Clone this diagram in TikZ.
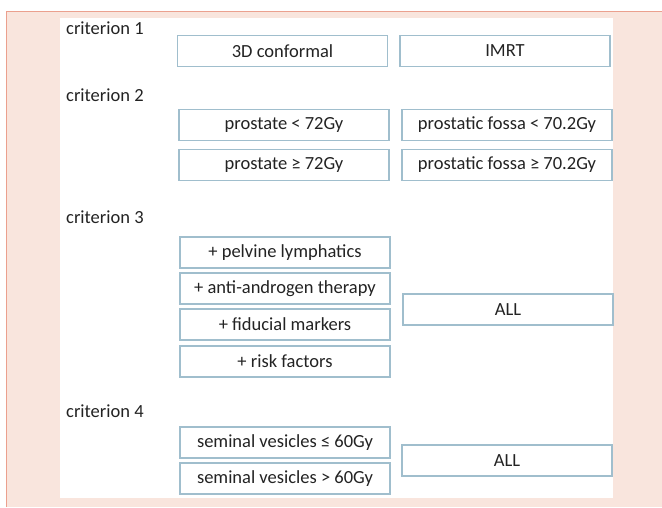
\documentclass[tikz,border=0pt]{standalone}
\usepackage{fontspec}
\setmainfont{Carlito}
\definecolor{panelpink}{RGB}{249,229,221}
\definecolor{panelline}{RGB}{235,160,142}
\definecolor{boxline}{RGB}{160,190,205}
\definecolor{txtgray}{RGB}{35,35,35}
\tikzset{
  critbox/.style={draw=boxline, line width=1.2pt, fill=white, minimum width=210pt, minimum height=31pt, inner sep=0pt, text=txtgray, font=\fontsize{18.5}{21}\selectfont},
  critlabel/.style={anchor=west, inner sep=0pt, text=txtgray, font=\fontsize{18.5}{21}\selectfont}
}
\begin{document}
\begin{tikzpicture}[x=1pt,y=1pt,yscale=-1,xscale=1]
\useasboundingbox (0,0) rectangle (662,507);

%Shape: Rectangle [panel]
\fill [panelpink] (6,11) rectangle (662,507);
\draw [panelline, line width=1pt] (6,507) -- (6,11) -- (662,11);
%Shape: Rectangle [sheet]
\fill [white] (60,18) rectangle (613,498);

% criterion 1
\node [critlabel] (crit1) at (66,28) {criterion 1};
\node [critbox] (conf3d) at (282.5,51) {3D conformal};
\node [critbox] (imrt) at (505,51) {IMRT};

% criterion 2
\node [critlabel] (crit2) at (66,95) {criterion 2};
\node [critbox] (prolow) at (284,125) {prostate < 72Gy};
\node [critbox] (fossalow) at (507,125) {prostatic fossa < 70.2Gy};
\node [critbox] (prohigh) at (284,165) {prostate ≥ 72Gy};
\node [critbox] (fossahigh) at (507,165) {prostatic fossa ≥ 70.2Gy};

% criterion 3
\node [critlabel] (crit3) at (66,217) {criterion 3};
\node [critbox] (pelvic) at (285,252.5) {+ pelvine lymphatics};
\node [critbox] (antiandro) at (285,288.5) {+ anti-androgen therapy};
\node [critbox] (fiducial) at (285,324.5) {+ fiducial markers};
\node [critbox] (risk) at (285,361.5) {+ risk factors};
\node [critbox] (allthree) at (508,309.5) {ALL};

% criterion 4
\node [critlabel] (crit4) at (66,411) {criterion 4};
\node [critbox] (semlow) at (285,442.5) {seminal vesicles ≤ 60Gy};
\node [critbox] (semhigh) at (285,478.5) {seminal vesicles > 60Gy};
\node [critbox] (allfour) at (507,460.5) {ALL};

\end{tikzpicture}
\end{document}
